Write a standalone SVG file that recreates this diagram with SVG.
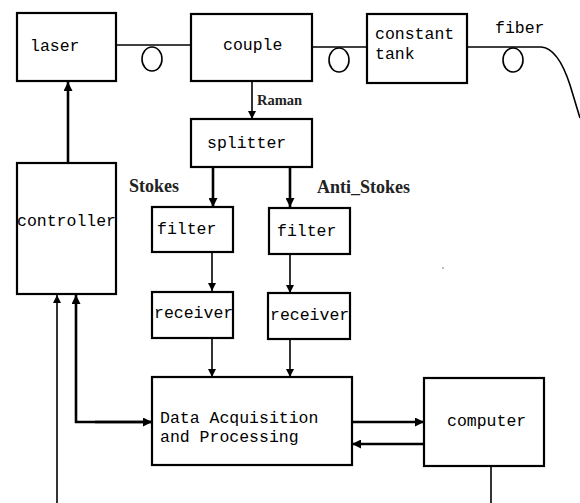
<svg xmlns="http://www.w3.org/2000/svg" width="580" height="503" viewBox="0 0 580 503">
<defs>
<style>
.box{fill:#fff;stroke:#000;stroke-width:2.2}
.t{font-family:"Liberation Mono","DejaVu Sans Mono",monospace;font-size:16.5px;fill:#000}
.lb{font-family:"Liberation Serif","DejaVu Serif",serif;font-weight:bold;fill:#222}
.ln{fill:none;stroke:#000;stroke-width:1.6}
.thk{fill:none;stroke:#000;stroke-width:2.6}
.loop{fill:none;stroke:#000;stroke-width:1.6}
</style>
<marker id="ah" viewBox="0 0 10 10" refX="10" refY="5" markerWidth="8" markerHeight="8" markerUnits="userSpaceOnUse" orient="auto"><path d="M0,0 L10,5 L0,10 z" fill="#000"/></marker>
<marker id="ahb" viewBox="0 0 10 10" refX="10" refY="5" markerWidth="9" markerHeight="9" markerUnits="userSpaceOnUse" orient="auto"><path d="M0,0 L10,5 L0,10 z" fill="#000"/></marker>
</defs>
<g id="connectors">
<line class="ln" x1="116" y1="45" x2="191" y2="45"/>
<ellipse class="loop" cx="152" cy="59" rx="10" ry="12"/>
<line class="ln" x1="312" y1="47" x2="367" y2="47"/>
<ellipse class="loop" cx="339" cy="60" rx="10" ry="12"/>
<path class="ln" d="M467 47 L541 47 Q558 48 570 85 L580 118"/>
<ellipse class="loop" cx="513" cy="60" rx="10" ry="12"/>
<line class="ln" x1="252" y1="81" x2="252" y2="119" marker-end="url(#ah)"/>
<line class="thk" x1="213" y1="167" x2="213" y2="207" marker-end="url(#ahb)"/>
<line class="thk" x1="290" y1="167" x2="290" y2="207" marker-end="url(#ahb)"/>
<line class="ln" x1="212" y1="252" x2="212" y2="291" marker-end="url(#ah)"/>
<line class="ln" x1="290" y1="254" x2="290" y2="293" marker-end="url(#ah)"/>
<line class="ln" x1="212" y1="338" x2="212" y2="377" marker-end="url(#ah)"/>
<line class="ln" x1="290" y1="339" x2="290" y2="377" marker-end="url(#ah)"/>
<line class="thk" x1="68" y1="163" x2="68" y2="82" marker-end="url(#ahb)"/>
<line class="ln" x1="57" y1="503" x2="57" y2="295" marker-end="url(#ah)"/>
<polyline class="thk" points="152,422 76,422 76,295" marker-end="url(#ahb)"/>
<line class="thk" x1="95" y1="422" x2="152" y2="422" marker-end="url(#ahb)"/>
<line class="thk" x1="352" y1="422" x2="424" y2="422" marker-end="url(#ahb)"/>
<line class="thk" x1="424" y1="444" x2="352" y2="444" marker-end="url(#ahb)"/>
<line class="ln" x1="491" y1="466" x2="491" y2="503"/>
<circle cx="443" cy="268" r="0.8" fill="#666"/>
</g>
<g id="laser"><rect class="box" x="17" y="13" width="99" height="68"/><text class="t" x="30" y="51">laser</text></g>
<g id="couple"><rect class="box" x="191" y="14" width="121" height="67"/><text class="t" x="223" y="50">couple</text></g>
<g id="tank"><rect class="box" x="367" y="14" width="100" height="69"/><text class="t" x="375" y="39">constant</text><text class="t" x="375" y="59">tank</text></g>
<text class="t" x="495" y="33">fiber</text>
<text class="lb" x="257" y="105" font-size="14.5">Raman</text>
<g id="splitter"><rect class="box" x="191" y="119" width="121" height="48"/><text class="t" x="207" y="148">splitter</text></g>
<text class="lb" x="129" y="192" font-size="18">Stokes</text>
<text class="lb" x="317" y="193" font-size="18">Anti_Stokes</text>
<g id="filter1"><rect class="box" x="152" y="207" width="81" height="45"/><text class="t" x="157" y="234">filter</text></g>
<g id="filter2"><rect class="box" x="269" y="208" width="81" height="46"/><text class="t" x="277" y="236">filter</text></g>
<g id="receiver1"><rect class="box" x="152" y="292" width="81" height="46"/><text class="t" x="154" y="318">receiver</text></g>
<g id="receiver2"><rect class="box" x="268" y="293" width="82" height="46"/><text class="t" x="270" y="320">receiver</text></g>
<g id="controller"><rect class="box" x="17" y="163" width="99" height="131"/><text class="t" x="17" y="226">controller</text></g>
<g id="daq"><rect class="box" x="152" y="377" width="200" height="88"/><text class="t" x="160" y="423">Data Acquisition</text><text class="t" x="160" y="442">and Processing</text></g>
<g id="computer"><rect class="box" x="424" y="378" width="120" height="88"/><text class="t" x="447" y="426">computer</text></g>
</svg>
